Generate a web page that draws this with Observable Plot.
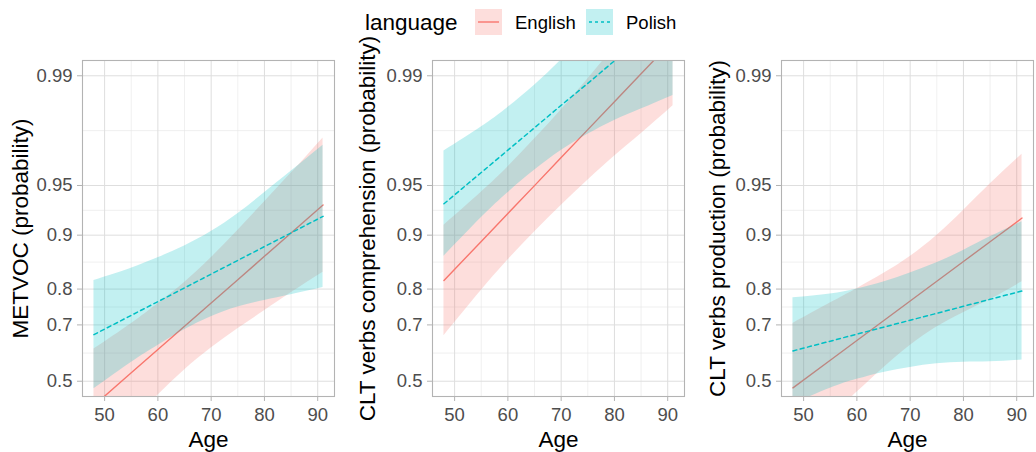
<!DOCTYPE html>
<html>
<head>
<meta charset="utf-8">
<script src="https://cdn.jsdelivr.net/npm/d3@7"></script>
<script src="https://cdn.jsdelivr.net/npm/@observablehq/plot@0.6"></script>
<style>
  html, body { margin: 0; padding: 0; background: #ffffff; }
  body { font-family: "Liberation Sans", Arial, sans-serif; }
  #chart { position: relative; width: 1036px; height: 452px; overflow: hidden; }
  .panel { position: absolute; top: 0; }
  #legend { position: absolute; left: 0; top: 0; pointer-events: none; }
</style>
</head>
<body>
<div id="chart"></div>
<script>
// ---------------- data (probabilities) ----------------
const ages = [48, 55, 60, 65, 70, 75, 80, 85, 91];
const languages = ["English", "Polish"];
const legendTitle = "language";
const xTitle = "Age";
const panelTitles = [
  "METVOC (probability)",
  "CLT verbs comprehension (probability)",
  "CLT verbs production (probability)"
];
const xTicks = [50, 60, 70, 80, 90];
const xMinorTicks = [55, 65, 75, 85];
const yTickValues = [0.5, 0.7, 0.8, 0.9, 0.95, 0.99];
const yTickLabels = ["0.5", "0.7", "0.8", "0.9", "0.95", "0.99"];

// Panel 1: METVOC
const metvocEnglishFit   = [0.4098, 0.5315, 0.6170, 0.6957, 0.7646, 0.8217, 0.8675, 0.9028, 0.9340];
const metvocEnglishLower = [0.2288, 0.3511, 0.4470, 0.5417, 0.6220, 0.6874, 0.7425, 0.7907, 0.8375];
const metvocEnglishUpper = [0.6189, 0.7039, 0.7626, 0.8156, 0.8650, 0.9062, 0.9369, 0.9580, 0.9749];
const metvocPolishFit    = [0.6684, 0.7293, 0.7680, 0.8028, 0.8336, 0.8603, 0.8834, 0.9030, 0.9228];
const metvocPolishLower  = [0.4715, 0.5698, 0.6311, 0.6844, 0.7253, 0.7536, 0.7712, 0.7860, 0.8038];
const metvocPolishUpper  = [0.8199, 0.8457, 0.8650, 0.8843, 0.9047, 0.9254, 0.9446, 0.9593, 0.9721];

// Panel 2: CLT verbs comprehension
const compEnglishFit   = [0.8198, 0.8912, 0.9258, 0.9499, 0.9666, 0.9778, 0.9853, 0.9903, 0.9941];
const compEnglishLower = [0.6649, 0.7963, 0.8610, 0.9041, 0.9336, 0.9536, 0.9672, 0.9764, 0.9844];
const compEnglishUpper = [0.9126, 0.9449, 0.9617, 0.9745, 0.9834, 0.9895, 0.9935, 0.9960, 0.9978];
const compPolishFit    = [0.9352, 0.9585, 0.9700, 0.9784, 0.9845, 0.9888, 0.9920, 0.9943, 0.9962];
const compPolishLower  = [0.8676, 0.9213, 0.9446, 0.9598, 0.9698, 0.9762, 0.9806, 0.9836, 0.9866];
const compPolishUpper  = [0.9696, 0.9786, 0.9840, 0.9885, 0.9921, 0.9948, 0.9967, 0.9980, 0.9989];

// Panel 3: CLT verbs production
const prodEnglishFit   = [0.4750, 0.5783, 0.6486, 0.7130, 0.7698, 0.8182, 0.8583, 0.8907, 0.9209];
const prodEnglishLower = [0.2554, 0.3673, 0.4583, 0.5498, 0.6311, 0.6930, 0.7371, 0.7735, 0.8168];
const prodEnglishUpper = [0.7047, 0.7642, 0.8010, 0.8348, 0.8673, 0.8997, 0.9289, 0.9511, 0.9682];
const prodPolishFit    = [0.6121, 0.6463, 0.6700, 0.6928, 0.7146, 0.7353, 0.7553, 0.7742, 0.7954];
const prodPolishLower  = [0.4148, 0.4733, 0.5070, 0.5332, 0.5518, 0.5651, 0.5713, 0.5725, 0.5788];
const prodPolishUpper  = [0.7783, 0.7880, 0.8003, 0.8165, 0.8359, 0.8559, 0.8773, 0.8977, 0.9167];

// ---------------- styling / layout ----------------
const colors = {English: "#F8766D", Polish: "#00BFC4"};
const ribbonOpacity = 0.24;
const font = "'Liberation Sans', Arial, Helvetica, sans-serif";

const logit = p => Math.log(p / (1 - p));
const rows = (fit, lower, upper) =>
  ages.map((a, i) => ({age: a, fit: logit(fit[i]), lo: logit(lower[i]), hi: logit(upper[i])}));

const panels = [
  {title: panelTitles[0], English: rows(metvocEnglishFit, metvocEnglishLower, metvocEnglishUpper),
   Polish: rows(metvocPolishFit, metvocPolishLower, metvocPolishUpper), left: 0, marginLeft: 82, width: 338, titleDx: -62},
  {title: panelTitles[1], English: rows(compEnglishFit, compEnglishLower, compEnglishUpper),
   Polish: rows(compPolishFit, compPolishLower, compPolishUpper), left: 345, marginLeft: 87, width: 343, titleDx: -65},
  {title: panelTitles[2], English: rows(prodEnglishFit, prodEnglishLower, prodEnglishUpper),
   Polish: rows(prodPolishFit, prodPolishLower, prodPolishUpper), left: 695, marginLeft: 86, width: 340, titleDx: -64}
];

// scales: logit y axis with ggplot-like 5% expansion
const yMajor = yTickValues.map(logit);
const yMinor = yMajor.slice(0, -1).map((v, i) => (v + yMajor[i + 1]) / 2);
const ySpan = yMajor[yMajor.length - 1] - yMajor[0];
const yDomain = [yMajor[0] - 0.05 * ySpan, yMajor[yMajor.length - 1] + 0.05 * ySpan];
const xSpan = ages[ages.length - 1] - ages[0];
const xDomain = [ages[0] - 0.05 * xSpan, ages[ages.length - 1] + 0.05 * xSpan];
const yLabel = d => yTickLabels[yMajor.findIndex(v => Math.abs(v - d) < 1e-9)];

const chart = document.getElementById("chart");

for (const p of panels) {
  const svg = Plot.plot({
    width: p.width,
    height: 452,
    marginLeft: p.marginLeft,
    marginRight: p.width - p.marginLeft - 252,
    marginTop: 60,
    marginBottom: 56,
    style: {fontFamily: font, background: "transparent", overflow: "visible"},
    x: {domain: xDomain},
    y: {domain: yDomain},
    marks: [
      Plot.gridY(yMinor, {stroke: "#E6E6E6", strokeOpacity: 1, strokeWidth: 0.6}),
      Plot.gridX(xMinorTicks, {stroke: "#E6E6E6", strokeOpacity: 1, strokeWidth: 0.6}),
      Plot.gridY(yMajor, {stroke: "#DEDEDE", strokeOpacity: 1, strokeWidth: 1}),
      Plot.gridX(xTicks, {stroke: "#DEDEDE", strokeOpacity: 1, strokeWidth: 1}),
      Plot.areaY(p.English, {x: "age", y1: "lo", y2: "hi", fill: colors.English, fillOpacity: ribbonOpacity, curve: "natural", clip: true}),
      Plot.line(p.English, {x: "age", y: "fit", stroke: colors.English, strokeWidth: 1.4, clip: true}),
      Plot.areaY(p.Polish, {x: "age", y1: "lo", y2: "hi", fill: colors.Polish, fillOpacity: ribbonOpacity, curve: "natural", clip: true}),
      Plot.line(p.Polish, {x: "age", y: "fit", stroke: colors.Polish, strokeWidth: 1.5, strokeDasharray: "4,3.5", clip: true}),
      Plot.frame({stroke: "#B3B3B3", strokeWidth: 1.1}),
      Plot.axisY(yMajor, {tickFormat: yLabel, tickSize: 5, tickPadding: 5, fontSize: 18.5, fill: "#4D4D4D", stroke: "#B3B3B3", label: null}),
      Plot.axisX(xTicks, {tickSize: 5, tickPadding: 6, fontSize: 18.5, fill: "#4D4D4D", stroke: "#B3B3B3", label: null}),
      Plot.text([p.title], {text: d => d, frameAnchor: "left", dx: p.titleDx, rotate: -90, textAnchor: "middle", lineAnchor: "middle", fontSize: 22.5, fill: "#000000"}),
      Plot.text([xTitle], {text: d => d, frameAnchor: "bottom", dy: 43, textAnchor: "middle", lineAnchor: "middle", fontSize: 22.5, fill: "#000000"})
    ]
  });
  svg.classList.add("panel");
  svg.style.left = p.left + "px";
  chart.appendChild(svg);
}

// ---------------- legend (top, centred) ----------------
const legend = d3.select(chart).append("svg")
  .attr("id", "legend").attr("width", 1036).attr("height", 45)
  .style("font-family", font);
legend.append("text").attr("x", 365).attr("y", 29.5)
  .attr("font-size", 22.5).attr("fill", "#000").text(legendTitle);
const keyX = {English: 475, Polish: 586};
for (const lang of languages) {
  const g = legend.append("g").attr("transform", `translate(${keyX[lang]},9)`);
  g.append("rect").attr("width", 27).attr("height", 26)
    .attr("fill", colors[lang]).attr("fill-opacity", ribbonOpacity);
  g.append("line").attr("x1", 3).attr("x2", 24).attr("y1", 13).attr("y2", 13)
    .attr("stroke", colors[lang]).attr("stroke-width", lang === "Polish" ? 1.5 : 1.4)
    .attr("stroke-dasharray", lang === "Polish" ? "3,3" : null);
  legend.append("text").attr("x", keyX[lang] + 40).attr("y", 29)
    .attr("font-size", 18.5).attr("fill", "#000").text(lang);
}
</script>
</body>
</html>
